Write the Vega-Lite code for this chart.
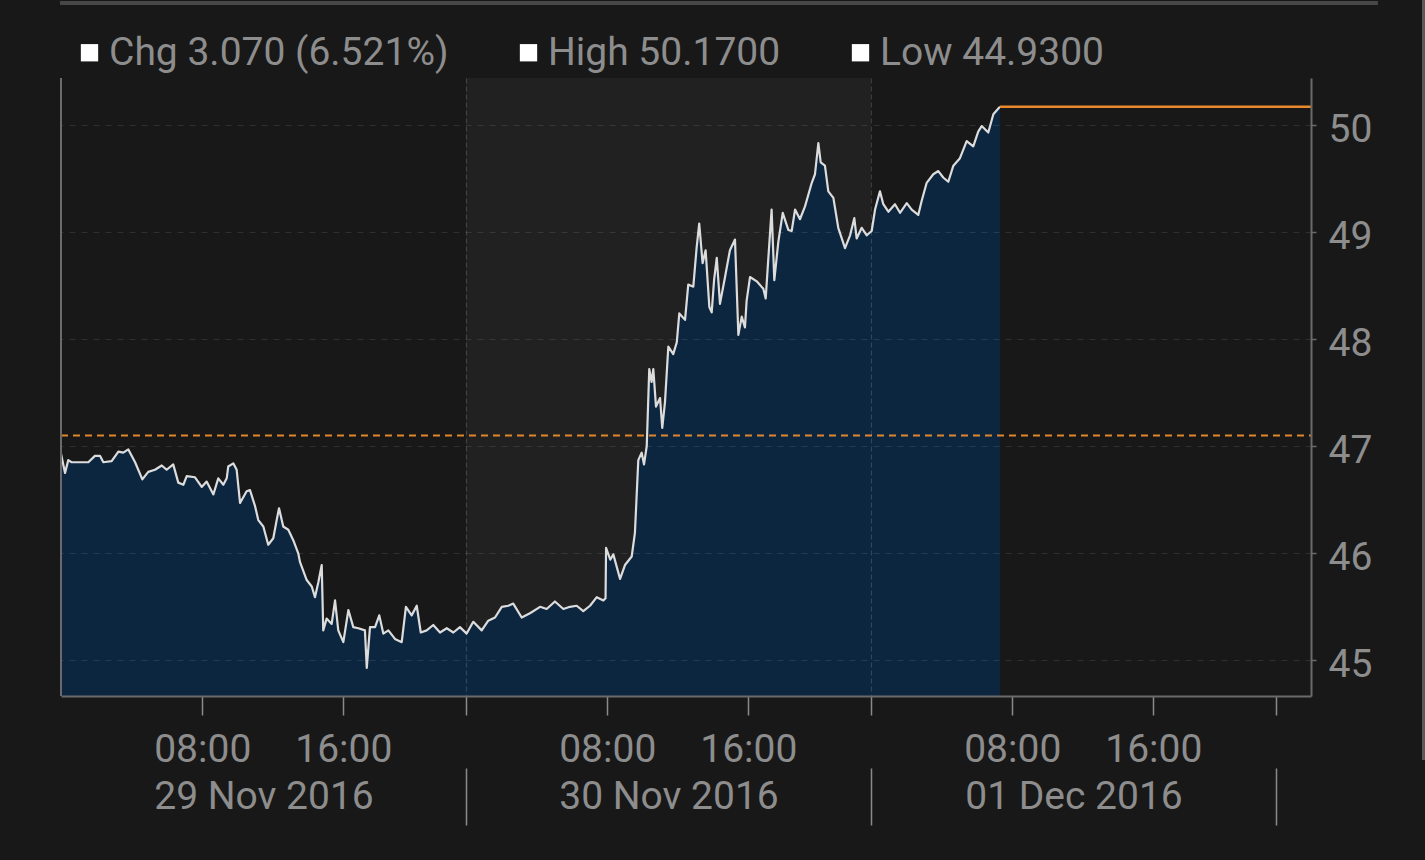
{
  "$schema": "https://vega.github.io/schema/vega-lite/v6.json",
  "width": 1250,
  "height": 618,
  "autosize": "none",
  "padding": {"left": 61, "top": 78, "right": 114, "bottom": 164},
  "background": "#181818",
  "config": {"view": {"stroke": null}, "font": "Roboto"},
  "datasets": {
    "band": [{"start": 24, "end": 48}],
    "legend": [{"item": "Chg 3.070 (6.521%)"}, {"item": "High 50.1700"}, {"item": "Low 44.9300"}],
    "refs": [
      {"kind": "prev", "t0": 0, "t1": 74.074, "v": 47.10},
      {"kind": "high", "t0": 55.64, "t1": 74.074, "v": 50.17}
    ],
    "frame": [{"t0": -0.06, "t1": 78.04, "v": 51.14, "edge": 0, "side": 80.74, "v0": 51.2, "v1": 44.07}],
    "price": [
      {"t":0,"p":46.93},{"t":0.24,"p":46.75},{"t":0.43,"p":46.87},{"t":0.63,"p":46.85},{"t":1.03,"p":46.85},{"t":1.62,"p":46.85},{"t":2.01,"p":46.91},{"t":2.31,"p":46.91},{"t":2.51,"p":46.85},{"t":3.0,"p":46.86},{"t":3.4,"p":46.95},{"t":3.69,"p":46.94},{"t":3.99,"p":46.97},{"t":4.39,"p":46.85},{"t":4.82,"p":46.69},{"t":5.17,"p":46.76},{"t":5.57,"p":46.78},{"t":5.97,"p":46.82},{"t":6.26,"p":46.78},{"t":6.65,"p":46.83},{"t":6.95,"p":46.66},{"t":7.25,"p":46.64},{"t":7.45,"p":46.72},{"t":7.94,"p":46.71},{"t":8.34,"p":46.62},{"t":8.63,"p":46.67},{"t":9.03,"p":46.55},{"t":9.32,"p":46.7},{"t":9.62,"p":46.64},{"t":9.82,"p":46.7},{"t":9.91,"p":46.81},{"t":10.21,"p":46.84},{"t":10.41,"p":46.78},{"t":10.61,"p":46.47},{"t":11.0,"p":46.58},{"t":11.2,"p":46.59},{"t":11.5,"p":46.44},{"t":11.69,"p":46.31},{"t":11.99,"p":46.25},{"t":12.28,"p":46.08},{"t":12.58,"p":46.14},{"t":12.78,"p":46.31},{"t":12.92,"p":46.42},{"t":13.17,"p":46.25},{"t":13.47,"p":46.22},{"t":13.77,"p":46.12},{"t":14.06,"p":46.0},{"t":14.16,"p":45.92},{"t":14.56,"p":45.75},{"t":14.86,"p":45.69},{"t":15.05,"p":45.59},{"t":15.25,"p":45.73},{"t":15.45,"p":45.89},{"t":15.54,"p":45.28},{"t":15.74,"p":45.39},{"t":16.04,"p":45.34},{"t":16.24,"p":45.56},{"t":16.43,"p":45.28},{"t":16.73,"p":45.17},{"t":17.03,"p":45.47},{"t":17.32,"p":45.31},{"t":17.62,"p":45.3},{"t":18.01,"p":45.28},{"t":18.12,"p":44.93},{"t":18.31,"p":45.31},{"t":18.61,"p":45.31},{"t":18.86,"p":45.42},{"t":19.1,"p":45.25},{"t":19.4,"p":45.28},{"t":19.79,"p":45.2},{"t":20.19,"p":45.17},{"t":20.44,"p":45.5},{"t":20.78,"p":45.42},{"t":21.08,"p":45.51},{"t":21.32,"p":45.26},{"t":21.67,"p":45.28},{"t":22.06,"p":45.33},{"t":22.46,"p":45.26},{"t":22.86,"p":45.3},{"t":23.25,"p":45.26},{"t":23.64,"p":45.31},{"t":24.04,"p":45.25},{"t":24.43,"p":45.36},{"t":24.93,"p":45.28},{"t":25.32,"p":45.37},{"t":25.72,"p":45.4},{"t":26.12,"p":45.5},{"t":26.51,"p":45.51},{"t":26.8,"p":45.53},{"t":27.3,"p":45.4},{"t":27.79,"p":45.44},{"t":28.39,"p":45.5},{"t":28.78,"p":45.48},{"t":29.27,"p":45.55},{"t":29.77,"p":45.48},{"t":30.16,"p":45.5},{"t":30.56,"p":45.51},{"t":30.95,"p":45.46},{"t":31.35,"p":45.51},{"t":31.75,"p":45.59},{"t":32.14,"p":45.56},{"t":32.27,"p":45.58},{"t":32.3,"p":46.05},{"t":32.55,"p":45.94},{"t":32.73,"p":45.99},{"t":33.13,"p":45.76},{"t":33.42,"p":45.89},{"t":33.82,"p":45.97},{"t":34.01,"p":46.19},{"t":34.21,"p":46.87},{"t":34.41,"p":46.94},{"t":34.55,"p":46.83},{"t":34.71,"p":47.0},{"t":34.86,"p":47.72},{"t":35.0,"p":47.6},{"t":35.1,"p":47.72},{"t":35.26,"p":47.37},{"t":35.5,"p":47.45},{"t":35.63,"p":47.17},{"t":35.79,"p":47.41},{"t":35.99,"p":47.93},{"t":36.28,"p":47.86},{"t":36.49,"p":47.97},{"t":36.64,"p":48.24},{"t":36.98,"p":48.18},{"t":37.17,"p":48.51},{"t":37.47,"p":48.49},{"t":37.67,"p":48.86},{"t":37.82,"p":49.08},{"t":38.02,"p":48.71},{"t":38.2,"p":48.83},{"t":38.42,"p":48.3},{"t":38.56,"p":48.25},{"t":38.7,"p":48.55},{"t":38.86,"p":48.76},{"t":39.05,"p":48.33},{"t":39.35,"p":48.58},{"t":39.64,"p":48.83},{"t":39.94,"p":48.93},{"t":40.14,"p":48.04},{"t":40.34,"p":48.21},{"t":40.53,"p":48.11},{"t":40.63,"p":48.36},{"t":40.83,"p":48.58},{"t":41.23,"p":48.54},{"t":41.62,"p":48.47},{"t":41.76,"p":48.38},{"t":41.91,"p":48.74},{"t":42.11,"p":49.21},{"t":42.27,"p":48.55},{"t":42.51,"p":48.91},{"t":42.77,"p":49.18},{"t":43.1,"p":49.02},{"t":43.3,"p":49.01},{"t":43.5,"p":49.21},{"t":43.79,"p":49.12},{"t":44.09,"p":49.24},{"t":44.49,"p":49.46},{"t":44.68,"p":49.54},{"t":44.88,"p":49.83},{"t":45.02,"p":49.65},{"t":45.27,"p":49.62},{"t":45.47,"p":49.38},{"t":45.77,"p":49.32},{"t":46.06,"p":49.04},{"t":46.46,"p":48.85},{"t":46.76,"p":48.97},{"t":47.01,"p":49.13},{"t":47.15,"p":48.94},{"t":47.45,"p":49.04},{"t":47.75,"p":48.97},{"t":48.04,"p":49.01},{"t":48.24,"p":49.21},{"t":48.53,"p":49.38},{"t":48.73,"p":49.26},{"t":49.03,"p":49.19},{"t":49.42,"p":49.26},{"t":49.72,"p":49.18},{"t":50.12,"p":49.27},{"t":50.41,"p":49.21},{"t":50.8,"p":49.16},{"t":51.0,"p":49.29},{"t":51.3,"p":49.46},{"t":51.69,"p":49.54},{"t":51.99,"p":49.57},{"t":52.28,"p":49.51},{"t":52.58,"p":49.47},{"t":52.88,"p":49.62},{"t":53.27,"p":49.69},{"t":53.67,"p":49.85},{"t":54.06,"p":49.8},{"t":54.36,"p":49.94},{"t":54.56,"p":49.99},{"t":54.95,"p":49.93},{"t":55.25,"p":50.1},{"t":55.64,"p":50.17}
    ]
  },
  "resolve": {"axis": {"x": "independent"}},
  "layer": [
    {
      "data": {"name": "band"},
      "mark": {"type": "rect", "color": "#212121"},
      "encoding": {
        "x": {"field": "start", "type": "quantitative", "scale": {"domain": [0, 74.074], "nice": false, "zero": false}, "axis": null},
        "x2": {"field": "end"}
      }
    },
    {
      "data": {"name": "price"},
      "mark": {"type": "area", "color": "#0c2640", "opacity": 1},
      "encoding": {
        "x": {
          "field": "t", "type": "quantitative",
          "scale": {"domain": [0, 74.074], "nice": false, "zero": false},
          "axis": {
            "orient": "bottom",
            "values": [8.37, 12, 16.73, 24, 32.37, 36, 40.73, 48, 56.37, 60, 64.73, 72],
            "labelExpr": "indexof([8.37,32.37,56.37], datum.value) >= 0 ? '08:00' : indexof([16.73,40.73,64.73], datum.value) >= 0 ? '16:00' : datum.value == 12 ? '29 Nov 2016' : datum.value == 36 ? '30 Nov 2016' : datum.value == 60 ? '01 Dec 2016' : ''",
            "labelFont": "Roboto", "labelFontSize": 39, "labelColor": "#8d8d8d", "labelLimit": 0,
            "labelBaseline": "top", "labelAlign": "center",
            "labelPadding": {"condition": {"test": "indexof([12,36,60], datum.value) >= 0", "value": 62}, "value": 15},
            "labelOverlap": false, "labelFlush": false,
            "tickSize": 19, "tickColor": "#8a8a8a", "tickWidth": 1.5,
            "tickOpacity": {"condition": {"test": "indexof([12,36,60], datum.value) >= 0", "value": 0}, "value": 1},
            "domainColor": "#6a6a6a", "domainWidth": 2,
            "grid": true, "gridColor": "#ffffff", "gridDash": [5, 3], "gridWidth": 1.2,
            "gridOpacity": {"condition": {"test": "datum.value == 24 || datum.value == 48", "value": 0.15}, "value": 0},
            "title": null, "zindex": 1
          }
        },
        "y": {
          "field": "p", "type": "quantitative",
          "scale": {"domain": [44.667, 50.439], "nice": false, "zero": false},
          "axis": {
            "orient": "right", "values": [45, 46, 47, 48, 49, 50], "format": "d",
            "tickSize": 5, "tickColor": "#6a6a6a", "tickWidth": 1.5,
            "labelPadding": 12, "labelFontSize": 39, "labelColor": "#8d8d8d", "labelFont": "Roboto",
            "labelBaseline": "middle", "labelOffset": 4,
            "domainColor": "#6a6a6a", "domainWidth": 2,
            "grid": true, "gridColor": "#ffffff", "gridOpacity": 0.1, "gridDash": [6, 6], "gridWidth": 1.2,
            "title": null, "zindex": 1
          }
        },
        "y2": {"datum": 44.667}
      }
    },
    {
      "data": {"name": "price"},
      "mark": {"type": "line", "color": "#dcdcdc", "strokeWidth": 2.2, "strokeJoin": "round"},
      "encoding": {
        "x": {
          "field": "t", "type": "quantitative",
          "axis": {"orient": "bottom", "values": [24, 48, 72], "offset": 72, "tickSize": 57, "tickColor": "#8a8a8a", "tickWidth": 1.5, "labels": false, "domain": false, "grid": false, "title": null}
        },
        "y": {"field": "p", "type": "quantitative", "axis": {"title": null}}
      }
    },
    {
      "data": {"name": "refs"},
      "transform": [{"filter": "datum.kind == 'prev'"}],
      "mark": {"type": "rule", "color": "#e0862c", "strokeWidth": 2, "strokeDash": [7, 5]},
      "encoding": {
        "x": {"field": "t0", "type": "quantitative", "axis": null},
        "x2": {"field": "t1"},
        "y": {"field": "v", "type": "quantitative", "axis": {"title": null}}
      }
    },
    {
      "data": {"name": "refs"},
      "transform": [{"filter": "datum.kind == 'high'"}],
      "mark": {"type": "rule", "color": "#e8892b", "strokeWidth": 2.5},
      "encoding": {
        "x": {"field": "t0", "type": "quantitative", "axis": null},
        "x2": {"field": "t1"},
        "y": {"field": "v", "type": "quantitative", "axis": {"title": null}}
      }
    },
    {
      "data": {"name": "frame"},
      "mark": {"type": "rule", "color": "#6a6a6a", "strokeWidth": 2},
      "encoding": {"x": {"field": "edge", "type": "quantitative", "axis": null}}
    },
    {
      "data": {"name": "frame"},
      "mark": {"type": "rule", "color": "#474747", "strokeWidth": 4},
      "encoding": {
        "x": {"field": "t0", "type": "quantitative", "axis": null},
        "x2": {"field": "t1"},
        "y": {"field": "v", "type": "quantitative", "axis": {"title": null}}
      }
    },
    {
      "data": {"name": "frame"},
      "mark": {"type": "rule", "color": "#5a5a5a", "strokeWidth": 3},
      "encoding": {
        "x": {"field": "side", "type": "quantitative", "axis": null},
        "y": {"field": "v0", "type": "quantitative", "axis": {"title": null}},
        "y2": {"field": "v1"}
      }
    },
    {
      "data": {"name": "legend"},
      "mark": {"type": "square", "opacity": 0, "filled": true},
      "encoding": {
        "color": {
          "field": "item", "type": "nominal", "sort": null,
          "scale": {"domain": ["Chg 3.070 (6.521%)", "High 50.1700", "Low 44.9300"], "range": ["#ffffff", "#ffffff", "#ffffff"]},
          "legend": {
            "orient": "none", "legendX": 9, "legendY": -45, "direction": "horizontal",
            "symbolType": "square", "symbolSize": 300, "symbolOpacity": 1, "symbolStrokeWidth": 0,
            "labelFontSize": 39, "labelColor": "#8d8d8d", "labelFont": "Roboto", "labelLimit": 0,
            "columnPadding": 60, "labelOffset": 0, "title": null, "padding": 0
          }
        }
      }
    }
  ]
}
